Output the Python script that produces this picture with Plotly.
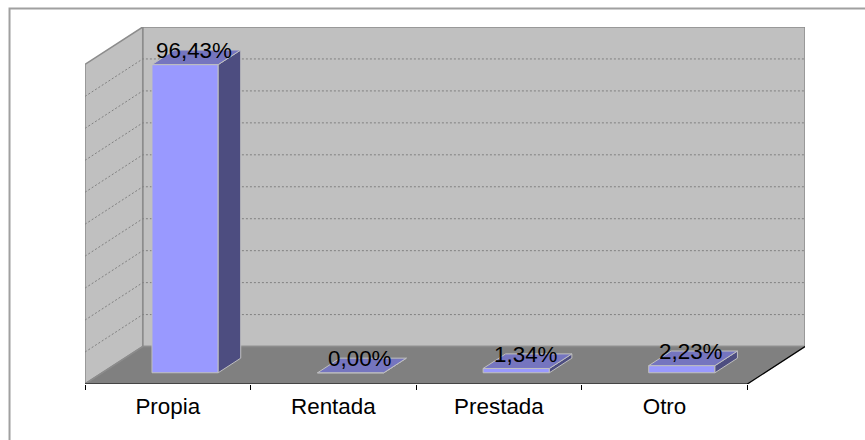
#!/usr/bin/env python3
import plotly.graph_objects as go

categories = ['Propia', 'Rentada', 'Prestada', 'Otro']
values = [96.43, 0.00, 1.34, 2.23]
value_ticks = [10, 20, 30, 40, 50, 60, 70, 80, 90]

WIDTH, HEIGHT = 865, 440
# oblique depth of the box, in axis units
DEPTH_X = 0.3486
DEPTH_Y = 11.72
MAX_VALUE = 100
BAR_WIDTH = 0.40
BAR_NEAR = 0.30
BAR_FAR = 0.69

WALL = '#C0C0C0'
FLOOR = '#808080'
EDGE = '#8C8C8C'
BAR_FRONT = '#9999FF'
BAR_TOP = '#7575BF'
BAR_SIDE = '#4D4D80'
BAR_EDGE = '#C0C0C0'
FONT = 'Liberation Sans'
FONT_SIZE = 22.4


def pt(x, v, d):
    # project (category x, value, depth 0-1) on the flat axes
    return x + d * DEPTH_X, v + d * DEPTH_Y


def path(points):
    return 'M ' + ' L '.join(f'{x},{y}' for x, y in points) + ' Z'


def line_path(points):
    return 'M ' + ' L '.join(f'{x},{y}' for x, y in points)


n = len(categories)
shapes = []
# outer frame, only top and left show in the window
shapes.append(dict(type='path', xref='x domain', yref='y domain', layer='below',
                   path=f'M {(9 - 84.5) / 720.2},{(384 - 445) / 357} '
                        f'L {(9 - 84.5) / 720.2},{(384 - 8.5) / 357} '
                        f'L {(870 - 84.5) / 720.2},{(384 - 8.5) / 357}',
                   line=dict(color='#A0A0A0', width=2)))

# walls and floor
back_wall = [pt(0, 0, 1), pt(0, MAX_VALUE, 1), pt(n, MAX_VALUE, 1), pt(n, 0, 1)]
left_wall = [pt(0, 0, 0), pt(0, MAX_VALUE, 0), pt(0, MAX_VALUE, 1), pt(0, 0, 1)]
floor = [pt(0, 0, 0), pt(0, 0, 1), pt(n, 0, 1), pt(n, 0, 0)]
for poly, color in [(back_wall, WALL), (left_wall, WALL), (floor, FLOOR)]:
    shapes.append(dict(type='path', path=path(poly), fillcolor=color,
                       line=dict(color=EDGE, width=1.5), layer='below'))

# gridlines on both walls
for v in value_ticks:
    shapes.append(dict(type='path', layer='below',
                       path=line_path([pt(0, v, 0), pt(0, v, 1), pt(n, v, 1)]),
                       line=dict(color='#808080', width=1, dash='2px,2px')))

# black edges of the floor
shapes.append(dict(type='path', layer='below',
                   path=line_path([pt(0, 0, 0), pt(n, 0, 0), pt(n, 0, 1)]),
                   line=dict(color='#000000', width=1.2)))

fig = go.Figure()

centers = [i + 0.5 for i in range(n)]
near = [pt(c, 0, BAR_NEAR) for c in centers]

# front faces
fig.add_trace(go.Bar(
    x=[p[0] for p in near],
    y=values,
    base=[p[1] for p in near],
    width=BAR_WIDTH,
    marker=dict(color=BAR_FRONT, line=dict(color=BAR_EDGE, width=1)),
    showlegend=False,
    hoverinfo='skip',
))

# top and side faces
for c, v in zip(centers, values):
    x0 = c - BAR_WIDTH / 2
    x1 = c + BAR_WIDTH / 2
    top = [pt(x0, v, BAR_NEAR), pt(x0, v, BAR_FAR), pt(x1, v, BAR_FAR), pt(x1, v, BAR_NEAR), pt(x0, v, BAR_NEAR)]
    side = [pt(x1, 0, BAR_NEAR), pt(x1, v, BAR_NEAR), pt(x1, v, BAR_FAR), pt(x1, 0, BAR_FAR), pt(x1, 0, BAR_NEAR)]
    for poly, color in [(side, BAR_SIDE), (top, BAR_TOP)]:
        fig.add_trace(go.Scatter(
            x=[p[0] for p in poly], y=[p[1] for p in poly],
            mode='lines', fill='toself', fillcolor=color,
            line=dict(color=BAR_EDGE, width=1),
            showlegend=False, hoverinfo='skip',
        ))

# data labels
mid = (BAR_NEAR + BAR_FAR) / 2
for c, v in zip(centers, values):
    lx, ly = pt(c, v, mid)
    fig.add_annotation(
        x=lx, y=ly, text=f'{v:.2f}'.replace('.', ',') + '%',
        showarrow=False, xanchor='center', yanchor='middle',
        xshift=-2, yshift=7,
        font=dict(family=FONT, size=FONT_SIZE, color='#000000'),
    )

fig.update_layout(
    width=WIDTH,
    height=HEIGHT,
    margin=dict(l=84.5, r=60.3, t=27, b=56, autoexpand=False),
    paper_bgcolor='#FFFFFF',
    plot_bgcolor='#FFFFFF',
    shapes=shapes,
    showlegend=False,
    xaxis=dict(
        range=[0, n + DEPTH_X],
        tickmode='array',
        tickvals=centers,
        ticktext=categories,
        ticks='outside',
        ticklen=2,
        tickcolor='rgba(0,0,0,0)',
        tickfont=dict(family=FONT, size=FONT_SIZE, color='#000000'),
        showgrid=False,
        zeroline=False,
        showline=False,
        minor=dict(tickmode='array', tickvals=list(range(n + 1)), ticks='outside',
                   ticklen=5, tickcolor='#000000', tickwidth=1, showgrid=False),
    ),
    yaxis=dict(
        range=[0, MAX_VALUE + DEPTH_Y],
        visible=False,
        showgrid=False,
        zeroline=False,
    ),
)

fig.write_html('out.html', config={'displayModeBar': False},
               post_script="document.body.style.margin='0';")
